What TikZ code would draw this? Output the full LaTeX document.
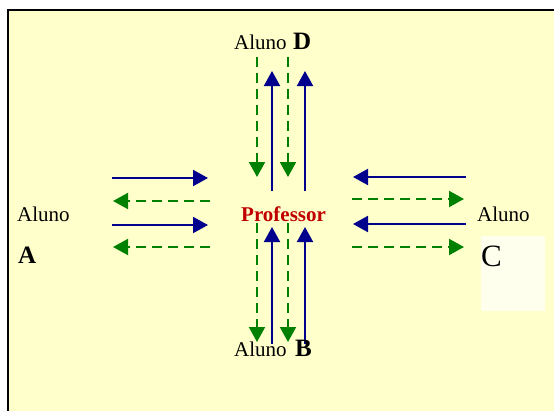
\documentclass[tikz,border=0pt]{standalone}
\usepackage{fontspec}
\setmainfont{Liberation Serif}
\usetikzlibrary{arrows.meta}
\definecolor{pale}{RGB}{255,255,204}
\definecolor{navy}{RGB}{0,0,140}
\definecolor{leaf}{RGB}{0,128,0}
\definecolor{wine}{RGB}{192,0,0}
\begin{document}
\begin{tikzpicture}[x=1pt,y=-1pt,>={Triangle[length=15pt,width=16pt]},
		talk/.style={navy,line width=2pt,->},
		reply/.style={leaf,line width=2pt,->,dash pattern=on 10pt off 6pt},
		lbl/.style={inner sep=0pt,anchor=base west,font=\fontsize{21}{24}\selectfont},
		big/.style={lbl,font=\fontsize{25}{30}\selectfont\bfseries}]
			\useasboundingbox (0,0) rectangle (554,410);
			\fill[white] (0,0) rectangle (554,410);
			\fill[pale] (8,10) rectangle (560,420);
			\fill[white!65!pale] (481,236) rectangle (545,311);
			\draw[line width=2.4pt] (8,420) -- (8,10) -- (570,10);
			% Aluno A
			\foreach \y/\k in {178/1,225/2} {
				\coordinate (at\k) at (112,\y); \coordinate (ah\k) at (208,\y);
				\draw[talk] (at\k) -- (ah\k);
			}
			\foreach \y/\k in {201/1,247/2} {
				\coordinate (ar\k) at (210,\y); \coordinate (aq\k) at (113,\y);
				\draw[reply] (ar\k) -- (aq\k);
			}
			% Aluno C
			\foreach \y/\k in {177/1,224/2} {
				\coordinate (ct\k) at (466,\y); \coordinate (ch\k) at (353,\y);
				\draw[talk] (ct\k) -- (ch\k);
			}
			\foreach \y/\k in {199/1,247/2} {
				\coordinate (cr\k) at (352,\y); \coordinate (cq\k) at (464,\y);
				\draw[reply] (cr\k) -- (cq\k);
			}
			% Aluno D
			\foreach \x/\k in {257/1,288/2} {
				\coordinate (dr\k) at (\x,57); \coordinate (dq\k) at (\x,177);
				\draw[reply] (dr\k) -- (dq\k);
			}
			\foreach \x/\k in {272/1,305/2} {
				\coordinate (dt\k) at (\x,191); \coordinate (dh\k) at (\x,71);
				\draw[talk] (dt\k) -- (dh\k);
			}
			% Aluno B
			\foreach \x/\k in {257/1,288/2} {
				\coordinate (br\k) at (\x,223); \coordinate (bq\k) at (\x,342);
				\draw[reply] (br\k) -- (bq\k);
			}
			\foreach \x/\k in {272/1,305/2} {
				\coordinate (bt\k) at (\x,344); \coordinate (bh\k) at (\x,227);
				\draw[talk] (bt\k) -- (bh\k);
			}
			\node[lbl] (alunoD) at (234,49) {Aluno};
			\node[big] (D) at (293,49) {D};
			\node[lbl] (alunoA) at (17,221) {Aluno};
			\node[big] (A) at (18,263) {A};
			\node[lbl,font=\fontsize{21}{24}\selectfont\bfseries,wine] (prof) at (241,221) {Professor};
			\node[lbl] (alunoC) at (477,221) {Aluno};
			\node[lbl,font=\fontsize{31}{36}\selectfont] (C) at (481,266) {C};
			\node[lbl] (alunoB) at (234,356) {Aluno};
			\node[big] (B) at (295,356) {B};
		\end{tikzpicture}
\end{document}
